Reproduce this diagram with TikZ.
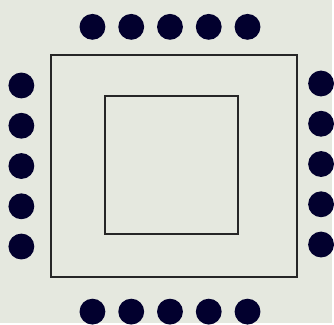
\documentclass[tikz,border=0pt]{standalone}
\definecolor{roombg}{HTML}{E5E8DF}
\definecolor{seat}{HTML}{02002E}
\begin{document}
\begin{tikzpicture}[x=0.02cm,y=-0.02cm]
 \fill[roombg] (0,0) rectangle (334,325);
 \draw[line width=1.2pt, black!85] (51,55.5) rectangle (298.5,278.5);
 \draw[line width=1.2pt, black!85] (106,96.5) rectangle (239,235.5);
 \foreach \x in {93,132,171,210,249} {
  \fill[seat] (\x,27) circle (13);
  \fill[seat] (\x,313.5) circle (13);
 }
 \foreach \y [count=\i] in {86,126.5,167,207.5,248} {
  \fill[seat] (21.5,\y) circle (13);
  \fill[seat] (323,\y-2) circle (13);
 }
\end{tikzpicture}
\end{document}
